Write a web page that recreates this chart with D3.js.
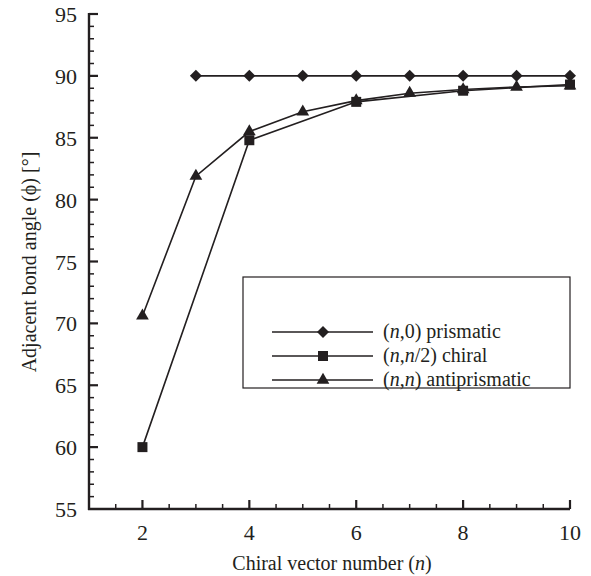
<!DOCTYPE html>
<html><head><meta charset="utf-8"><script src="https://cdn.jsdelivr.net/npm/d3@7"></script></head><body style="margin:0">
<svg id="c" width="591" height="576"></svg>
<script>
const prismaticN = [3,4,5,6,7,8,9,10];
const prismaticVals = [90,90,90,90,90,90,90,90];
const chiralN = [2,4,6,8,10];
const chiralVals = [60,84.8,87.9,88.8,89.3];
const antiN = [2,3,4,5,6,7,8,9,10];
const antiVals = [70.6,81.9,85.5,87.1,88.0,88.6,88.9,89.1,89.2];
const xTicks = [2,4,6,8,10];
const yTicks = [55,60,65,70,75,80,85,90,95];
const legendLabels = [["(","n",",0) prismatic"],["(","n",",","n","/2) chiral"],["(","n",",","n",") antiprismatic"]];

const ink = "#231f20";
const FONT = "'Liberation Serif', Tinos, 'Times New Roman', serif";
const svg = d3.select("#c");
const x = d3.scaleLinear().domain([1,10]).range([89,570]);
const y = d3.scaleLinear().domain([55,95]).range([509,14]);

const g = svg.append("g");
g.selectAll(".xm").data(d3.range(1.5,10.01,0.5)).join("line")
  .attr("x1",d=>x(d)).attr("x2",d=>x(d)).attr("y1",y(55)).attr("y2",d=>y(55)-(Number.isInteger(d)&&d%2===0?9:5))
  .attr("stroke",ink).attr("stroke-width",d=>Number.isInteger(d)&&d%2===0?2.2:1.5);
g.selectAll(".ym").data(d3.range(56,95.01,1)).join("line")
  .attr("y1",d=>y(d)).attr("y2",d=>y(d)).attr("x1",x(1)).attr("x2",d=>x(1)+(d%5===0?9:5))
  .attr("stroke",ink).attr("stroke-width",d=>d%5===0?2.2:1.5);
g.append("line").attr("x1",x(1)).attr("x2",x(1)).attr("y1",y(95)-1).attr("y2",y(55)+1).attr("stroke",ink).attr("stroke-width",2.4);
g.append("line").attr("x1",x(1)-1).attr("x2",x(10)).attr("y1",y(55)).attr("y2",y(55)).attr("stroke",ink).attr("stroke-width",2.4);

svg.selectAll(".xt").data(xTicks).join("text").attr("x",d=>x(d)).attr("y",y(55)+31)
  .attr("text-anchor","middle").attr("font-size",22).attr("fill",ink).style("font-family",FONT).text(d=>d);
svg.selectAll(".yt").data(yTicks).join("text").attr("x",x(1)-12).attr("y",d=>y(d)+8)
  .attr("text-anchor","end").attr("font-size",22).attr("fill",ink).style("font-family",FONT).text(d=>d);

const xl = svg.append("text").attr("x",332).attr("y",570).attr("text-anchor","middle").attr("font-size",20).attr("fill",ink).style("font-family",FONT);
xl.append("tspan").text("Chiral vector number (");
xl.append("tspan").attr("font-style","italic").text("n");
xl.append("tspan").text(")");
svg.append("text").attr("transform","translate(36,262) rotate(-90)").attr("text-anchor","middle").attr("font-size",20).attr("fill",ink).style("font-family",FONT)
  .text("Adjacent bond angle (\u03d5) [\u00b0]");

const line = d3.line().x(d=>x(d[0])).y(d=>y(d[1]));
const series = [
  {pts: prismaticN.map((n,i)=>[n,prismaticVals[i]]), sym: "diamond"},
  {pts: chiralN.map((n,i)=>[n,chiralVals[i]]), sym: d3.symbolSquare, size: 100},
  {pts: antiN.map((n,i)=>[n,antiVals[i]]), sym: d3.symbolTriangle, size: 70}
];
function marker(sel, s){
  if (s.sym==="diamond") return sel.attr("d", d3.symbol(d3.symbolSquare, 72)());
  return sel.attr("d", d3.symbol(s.sym, s.size)());
}
series.forEach(s=>{
  svg.append("path").attr("d",line(s.pts)).attr("fill","none").attr("stroke",ink).attr("stroke-width",1.6);
});
series.forEach(s=>{
  svg.append("g").selectAll("path").data(s.pts).join("path")
    .call(sel=>marker(sel,s))
    .attr("transform",d=>`translate(${x(d[0])},${y(d[1])})`+(s.sym==="diamond"?` rotate(45)`:``))
    .attr("fill",ink);
});

svg.append("rect").attr("x",243).attr("y",277).attr("width",327).attr("height",111)
  .attr("fill","#fff").attr("stroke",ink).attr("stroke-width",1.2);
const ly = [332,356,380];
series.forEach((s,i)=>{
  svg.append("line").attr("x1",272).attr("x2",373).attr("y1",ly[i]).attr("y2",ly[i]).attr("stroke",ink).attr("stroke-width",1.6);
  svg.append("path").call(sel=>marker(sel,s)).attr("transform",`translate(323,${ly[i]})`+(s.sym==="diamond"?` rotate(45)`:``)).attr("fill",ink);
  const t = svg.append("text").attr("x",383).attr("y",ly[i]+6).attr("font-size",20).attr("fill",ink).style("font-family",FONT);
  legendLabels[i].forEach(p=>{
    t.append("tspan").attr("font-style",p==="n"?"italic":null).text(p);
  });
});
</script></body></html>
